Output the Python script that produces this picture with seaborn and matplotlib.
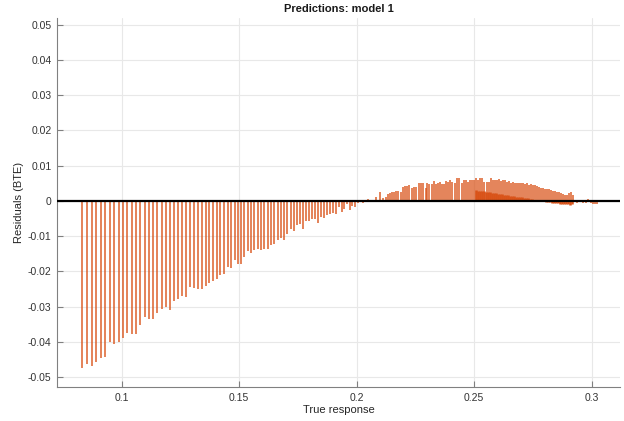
import numpy as np
import matplotlib
matplotlib.use("Agg")
import matplotlib.pyplot as plt
import seaborn as sns

# residuals, left (large negative) part
true_left = [0.08311, 0.08523, 0.08723, 0.08906, 0.09106, 0.09302, 0.09489, 0.09685, 0.09872,
             0.10055, 0.10238, 0.10426, 0.10609, 0.10791, 0.10979, 0.11162, 0.11332, 0.11515,
             0.11702, 0.11872, 0.12055, 0.12226, 0.12396, 0.12566, 0.12736, 0.12906, 0.13077,
             0.13247, 0.13404, 0.13574, 0.13728, 0.13898, 0.14055]
resid_left = [-0.0475, -0.0463, -0.0467, -0.0456, -0.0446, -0.0443, -0.0401, -0.0407, -0.0399,
              -0.0389, -0.0376, -0.0379, -0.0377, -0.0353, -0.0328, -0.0336, -0.0336, -0.0319,
              -0.0307, -0.0300, -0.0309, -0.0283, -0.0279, -0.0271, -0.0272, -0.0243, -0.0246,
              -0.0251, -0.0249, -0.0241, -0.0234, -0.0226, -0.0221]

true_mid = [0.14196, 0.14353, 0.14511, 0.14664, 0.14821, 0.14949, 0.15077, 0.15217, 0.15362,
            0.15502, 0.15643, 0.15787, 0.15928, 0.16068, 0.16213, 0.16353, 0.16494, 0.16638,
            0.16779, 0.16919, 0.17047, 0.17191, 0.17332, 0.17472, 0.17600, 0.17728, 0.17855,
            0.17983, 0.18111, 0.18238, 0.18366, 0.18494, 0.18621, 0.18749, 0.18877, 0.19004,
            0.19132, 0.19247, 0.19362, 0.19472, 0.19587, 0.19702, 0.19813, 0.19928, 0.20043,
            0.20153, 0.20268]
resid_mid = [-0.0210, -0.0208, -0.0187, -0.0190, -0.0169, -0.0180, -0.0178, -0.0159, -0.0142,
             -0.0147, -0.0140, -0.0137, -0.0140, -0.0136, -0.0136, -0.0125, -0.0121, -0.0110,
             -0.0104, -0.0111, -0.0094, -0.0079, -0.0086, -0.0069, -0.0066, -0.0079, -0.0056,
             -0.0058, -0.0050, -0.0050, -0.0064, -0.0045, -0.0048, -0.0041, -0.0037, -0.0035,
             -0.0038, -0.0018, -0.0032, -0.0023, -0.0009, -0.0026, -0.0014, -0.0016, -0.0007,
             -0.0004, -0.0007]

# positive hump
true_pos = [0.20494, 0.20809, 0.20991, 0.21132, 0.21247, 0.21345, 0.21430, 0.21515, 0.21600,
            0.21685, 0.21770, 0.21872, 0.21957,
            0.22055, 0.22153, 0.22238, 0.22353, 0.22438, 0.22523, 0.22651, 0.22736, 0.22834,
            0.22936, 0.23004, 0.23089, 0.23191, 0.23289, 0.23374, 0.23472, 0.23557, 0.23643,
            0.23728, 0.23813, 0.23898, 0.23983, 0.24068, 0.24170, 0.24281, 0.24366, 0.24468,
            0.24553, 0.24638, 0.24723, 0.24809, 0.24894, 0.24979, 0.25064, 0.25174, 0.25260,
            0.25345, 0.25430, 0.25545, 0.25630, 0.25715, 0.25800]
resid_pos = [0.0005, 0.0010, 0.0024, 0.0008, 0.0012, 0.0020, 0.0022, 0.0024, 0.0026,
             0.0028, 0.0027, 0.0024, 0.0039,
             0.0043, 0.0043, 0.0044, 0.0038, 0.0040, 0.0040, 0.0050, 0.0051, 0.0052,
             0.0038, 0.0051, 0.0048, 0.0049, 0.0057, 0.0049, 0.0050, 0.0055, 0.0047,
             0.0049, 0.0057, 0.0055, 0.0059, 0.0055, 0.0051, 0.0064, 0.0064, 0.0051,
             0.0059, 0.0059, 0.0055, 0.0058, 0.0058, 0.0059, 0.0064, 0.0059, 0.0064,
             0.0064, 0.0055, 0.0055, 0.0055, 0.0064, 0.0059]

true_fall = [0.25885, 0.25970, 0.26055, 0.26140, 0.26226, 0.26311, 0.26396, 0.26481, 0.26566,
             0.26651, 0.26736, 0.26821, 0.26906, 0.26991, 0.27077, 0.27162, 0.27247, 0.27332,
             0.27417, 0.27502, 0.27587, 0.27672, 0.27757, 0.27843, 0.27928, 0.28013, 0.28098,
             0.28183, 0.28268, 0.28353, 0.28438, 0.28523, 0.28609, 0.28694, 0.28779, 0.28864,
             0.28949, 0.29034, 0.29119, 0.29204]
resid_fall = [0.0060, 0.0060, 0.0061, 0.0057, 0.0058, 0.0058, 0.0054, 0.0056, 0.0050,
              0.0054, 0.0052, 0.0052, 0.0050, 0.0052, 0.0050, 0.0047, 0.0050, 0.0046,
              0.0049, 0.0044, 0.0046, 0.0043, 0.0039, 0.0037, 0.0037, 0.0035, 0.0033,
              0.0033, 0.0031, 0.0029, 0.0029, 0.0026, 0.0024, 0.0022, 0.0020, 0.0018,
              0.0016, 0.0022, 0.0025, 0.0017]

# dense band of points at the high end
true_band = [0.25077, 0.25162, 0.25247, 0.25332, 0.25417, 0.25502, 0.25587, 0.25672, 0.25757,
             0.25843, 0.25928, 0.26013, 0.26098, 0.26183, 0.26268, 0.26353, 0.26438, 0.26523,
             0.26609, 0.26694, 0.26779, 0.26864, 0.26949, 0.27034, 0.27119, 0.27204, 0.27289,
             0.27374, 0.27460, 0.27545, 0.27630, 0.27715, 0.27800, 0.27885, 0.27970, 0.28055,
             0.28140, 0.28226, 0.28311, 0.28396, 0.28481, 0.28566, 0.28651, 0.28736, 0.28821,
             0.28906, 0.28991, 0.29077, 0.29162]
resid_band = [0.0030, 0.0029, 0.0028, 0.0027, 0.0027, 0.0026, 0.0025, 0.0024, 0.0023,
              0.0022, 0.0022, 0.0021, 0.0020, 0.0019, 0.0018, 0.0017, 0.0016, 0.0015,
              0.0014, 0.0013, 0.0012, 0.0011, 0.0011, 0.0010, 0.0009, 0.0008, 0.0007,
              0.0006, 0.0005, 0.0004, 0.0003, 0.0002, 0.0002, 0.0001, -0.0001, -0.0002,
              -0.0003, -0.0004, -0.0005, -0.0005, -0.0006, -0.0007, -0.0008, -0.0008, -0.0009,
              -0.0009, -0.0010, -0.0011, -0.0010]

true_tail = [0.29247, 0.29374, 0.29502, 0.29630, 0.29757, 0.29843, 0.29906, 0.29970,
             0.30055, 0.30140, 0.30226]
resid_tail = [-0.0004, -0.0006, -0.0003, -0.0005, -0.0006, 0.0006, 0.0003, -0.0007,
              -0.0008, -0.0009, -0.0008]

yticks = [-0.05, -0.04, -0.03, -0.02, -0.01, 0, 0.01, 0.02, 0.03, 0.04, 0.05]
ytick_labels = ["-0.05", "-0.04", "-0.03", "-0.02", "-0.01", "0",
                "0.01", "0.02", "0.03", "0.04", "0.05"]
xticks = [0.1, 0.15, 0.2, 0.25, 0.3]
xtick_labels = ["0.1", "0.15", "0.2", "0.25", "0.3"]

sns.set_theme(style="whitegrid")
plt.rcParams['font.family'] = ['Liberation Sans', 'DejaVu Sans']
plt.rcParams['axes.unicode_minus'] = False

stem_color = "#D95319"
gray = "#808080"

fig = plt.figure(figsize=(6.24, 4.21), dpi=100)
ax = fig.add_axes([57 / 624, 34 / 421, 563 / 624, 369 / 421])

x_main = np.concatenate([true_left, true_mid, true_pos, true_fall, true_tail])
y_main = np.concatenate([resid_left, resid_mid, resid_pos, resid_fall, resid_tail])
ax.vlines(x_main, 0, y_main, color=stem_color, linewidth=1.2, alpha=0.85, zorder=2)
ax.vlines(true_band, 0, resid_band, color=stem_color, linewidth=1.8, zorder=2)

ax.axhline(0, color="black", linewidth=1.6, zorder=3)

ax.set_xlim(0.07247, 0.31204)
ax.set_ylim(-0.0528, 0.0519)
ax.set_xticks(xticks)
ax.set_xticklabels(xtick_labels)
ax.set_yticks(yticks)
ax.set_yticklabels(ytick_labels)

ax.grid(True, color="#E8E8E8", linewidth=0.8)
for side in ["top", "right"]:
    ax.spines[side].set_visible(False)
for side in ["left", "bottom"]:
    ax.spines[side].set_color(gray)
    ax.spines[side].set_linewidth(0.8)

ax.tick_params(axis="both", direction="in", length=4, width=0.8, color=gray,
               labelsize=7.5, labelcolor="#333333", pad=4)
ax.tick_params(axis="both", which="both", bottom=True, left=True)

ax.set_xlabel("True response", fontsize=8, color="#262626", labelpad=2)
ax.set_ylabel("Residuals (BTE)", fontsize=8, color="#262626", labelpad=3)
ax.set_title("Predictions: model 1", fontsize=8, fontweight="bold", color="#1a1a1a", pad=4)

fig.savefig("out.png", dpi=100, facecolor="white")
